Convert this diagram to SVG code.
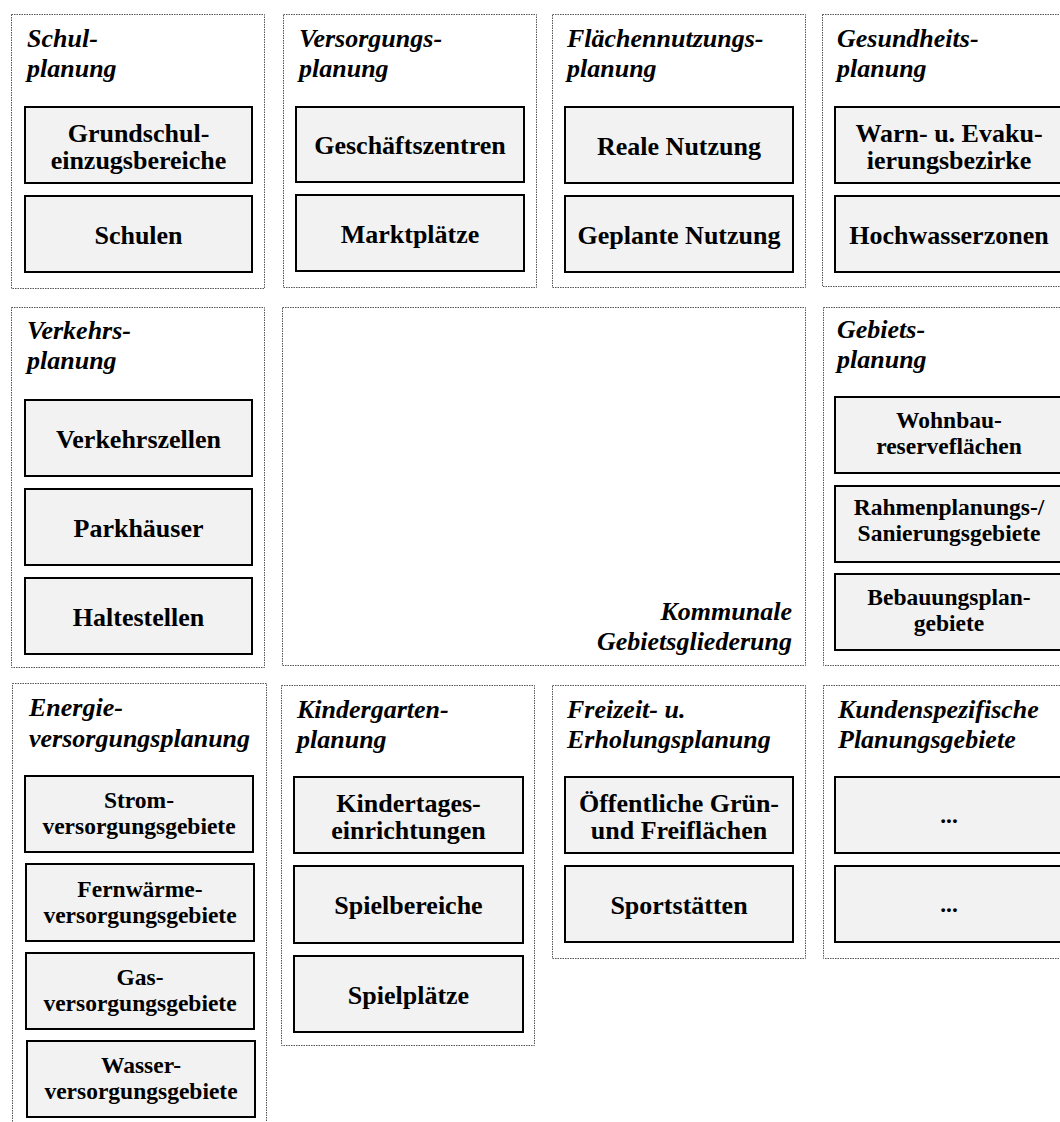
<svg xmlns="http://www.w3.org/2000/svg" width="1060" height="1122" viewBox="0 0 1060 1122">
<style>
.panel{fill:#fff;stroke:#555;stroke-width:1;stroke-dasharray:1.5,1}
.box{fill:#f2f2f2;stroke:#000;stroke-width:2}
.t{font-family:"Liberation Serif","Times New Roman",serif;font-weight:bold;font-style:italic;font-size:26px;fill:#000}
.b{font-family:"Liberation Serif","Times New Roman",serif;font-weight:bold;font-size:26px;fill:#000;text-anchor:middle}
.s{font-family:"Liberation Serif","Times New Roman",serif;font-weight:bold;font-size:23.5px;fill:#000;text-anchor:middle}
</style>
<rect width="1060" height="1122" fill="#fff"/>
<g id="connectors"/>
<g id="schulplanung">
<rect class="panel" x="11.5" y="14.5" width="253" height="274"/>
<text class="t" x="27" y="47">Schul-</text><text class="t" x="27" y="77">planung</text>
<rect class="box" x="25" y="107" width="227" height="76"/>
<text class="b" x="138.5" y="142">Grundschul-</text><text class="b" x="138.5" y="169">einzugsbereiche</text>
<rect class="box" x="25" y="196" width="227" height="76"/>
<text class="b" x="138.5" y="244">Schulen</text>
</g>
<g id="versorgungsplanung">
<rect class="panel" x="283.5" y="14.5" width="253" height="273"/>
<text class="t" x="299" y="47">Versorgungs-</text><text class="t" x="299" y="77">planung</text>
<rect class="box" x="296" y="107" width="228" height="75"/>
<text class="b" x="410" y="154">Geschäftszentren</text>
<rect class="box" x="296" y="195" width="228" height="76"/>
<text class="b" x="410" y="243">Marktplätze</text>
</g>
<g id="flaechennutzungsplanung">
<rect class="panel" x="552.5" y="14.5" width="253" height="273"/>
<text class="t" x="567" y="47">Flächennutzungs-</text><text class="t" x="567" y="77">planung</text>
<rect class="box" x="565" y="107" width="228" height="76"/>
<text class="b" x="679" y="155">Reale Nutzung</text>
<rect class="box" x="565" y="196" width="228" height="76"/>
<text class="b" x="679" y="244">Geplante Nutzung</text>
</g>
<g id="gesundheitsplanung">
<rect class="panel" x="822.5" y="14.5" width="260" height="272"/>
<text class="t" x="837" y="47">Gesundheits-</text><text class="t" x="837" y="77">planung</text>
<rect class="box" x="835" y="107" width="228" height="76"/>
<text class="b" x="949" y="142">Warn- u. Evaku-</text><text class="b" x="949" y="169">ierungsbezirke</text>
<rect class="box" x="835" y="196" width="228" height="76"/>
<text class="b" x="949" y="244">Hochwasserzonen</text>
</g>
<g id="verkehrsplanung">
<rect class="panel" x="11.5" y="307.5" width="253" height="360"/>
<text class="t" x="27" y="339">Verkehrs-</text><text class="t" x="27" y="369">planung</text>
<rect class="box" x="25" y="400" width="227" height="76"/>
<text class="b" x="138.5" y="448">Verkehrszellen</text>
<rect class="box" x="25" y="489" width="227" height="76"/>
<text class="b" x="138.5" y="537">Parkhäuser</text>
<rect class="box" x="25" y="578" width="227" height="76"/>
<text class="b" x="138.5" y="626">Haltestellen</text>
</g>
<g id="kommunale-gebietsgliederung">
<rect class="panel" x="282.5" y="307.5" width="523" height="358"/>
<text class="t" x="792" y="620" text-anchor="end">Kommunale</text>
<text class="t" x="792" y="650" text-anchor="end">Gebietsgliederung</text>
</g>
<g id="gebietsplanung">
<rect class="panel" x="823.5" y="307.5" width="260" height="358"/>
<text class="t" x="837" y="338">Gebiets-</text><text class="t" x="837" y="368">planung</text>
<rect class="box" x="835" y="397" width="228" height="76"/>
<text class="s" x="949" y="428">Wohnbau-</text><text class="s" x="949" y="454">reserveflächen</text>
<rect class="box" x="835" y="486" width="228" height="76"/>
<text class="s" x="949" y="515">Rahmenplanungs-/</text><text class="s" x="949" y="541">Sanierungsgebiete</text>
<rect class="box" x="835" y="574" width="228" height="76"/>
<text class="s" x="949" y="605">Bebauungsplan-</text><text class="s" x="949" y="631">gebiete</text>
</g>
<g id="energieversorgungsplanung">
<rect class="panel" x="12.5" y="683.5" width="254" height="460"/>
<text class="t" x="29" y="716">Energie-</text><text class="t" x="29" y="747">versorgungsplanung</text>
<rect class="box" x="25" y="776" width="228" height="76"/>
<text class="s" x="139" y="808">Strom-</text><text class="s" x="139" y="834">versorgungsgebiete</text>
<rect class="box" x="26" y="864" width="228" height="77"/>
<text class="s" x="140" y="897">Fernwärme-</text><text class="s" x="140" y="923">versorgungsgebiete</text>
<rect class="box" x="26" y="953" width="228" height="76"/>
<text class="s" x="140" y="985">Gas-</text><text class="s" x="140" y="1011">versorgungsgebiete</text>
<rect class="box" x="27" y="1041" width="228" height="76"/>
<text class="s" x="141" y="1073">Wasser-</text><text class="s" x="141" y="1099">versorgungsgebiete</text>
</g>
<g id="kindergartenplanung">
<rect class="panel" x="281.5" y="685.5" width="253" height="360"/>
<text class="t" x="297" y="718">Kindergarten-</text><text class="t" x="297" y="748">planung</text>
<rect class="box" x="294" y="777" width="229" height="76"/>
<text class="b" x="408.5" y="812">Kindertages-</text><text class="b" x="408.5" y="839">einrichtungen</text>
<rect class="box" x="294" y="866" width="229" height="77"/>
<text class="b" x="408.5" y="914">Spielbereiche</text>
<rect class="box" x="294" y="956" width="229" height="76"/>
<text class="b" x="408.5" y="1004">Spielplätze</text>
</g>
<g id="freizeitplanung">
<rect class="panel" x="552.5" y="685.5" width="253" height="273"/>
<text class="t" x="567" y="718">Freizeit- u.</text><text class="t" x="567" y="748">Erholungsplanung</text>
<rect class="box" x="565" y="777" width="228" height="76"/>
<text class="b" x="679" y="812">Öffentliche Grün-</text><text class="b" x="679" y="839">und Freiflächen</text>
<rect class="box" x="565" y="866" width="228" height="76"/>
<text class="b" x="679" y="914">Sportstätten</text>
</g>
<g id="kundenspezifische-planungsgebiete">
<rect class="panel" x="823.5" y="685.5" width="260" height="273"/>
<text class="t" x="838" y="718">Kundenspezifische</text><text class="t" x="838" y="748">Planungsgebiete</text>
<rect class="box" x="835" y="777" width="228" height="76"/>
<text class="s" x="949" y="823">...</text>
<rect class="box" x="835" y="866" width="228" height="76"/>
<text class="s" x="949" y="912">...</text>
</g>
</svg>
